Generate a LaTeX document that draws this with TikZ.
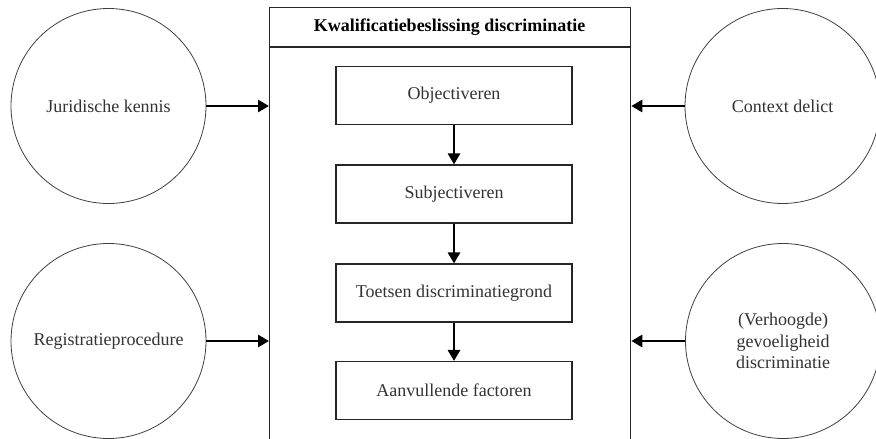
\documentclass[tikz,border=0pt]{standalone}
\usepackage{fontspec}
\setmainfont{Liberation Serif}
\usetikzlibrary{arrows.meta}
\begin{document}
\begin{tikzpicture}[x=1pt,y=-1pt,
  every node/.style={font=\fontsize{18}{21.7}\selectfont, text=black!80},
  circ/.style={draw=black!75, line width=0.8pt, circle, minimum size=195pt, inner sep=0pt, align=center},
  stepbox/.style={draw=black!85, line width=1.1pt, rectangle, minimum width=236pt, minimum height=58pt, inner sep=0pt},
  arr/.style={line width=2.8pt, -{Triangle[length=11pt,width=12pt]}},
  frame/.style={draw=black!85, line width=1.3pt}]
\useasboundingbox (0,0) rectangle (876,439);
\clip (0,0) rectangle (876,439);
\fill[white] (0,0) rectangle (876,439);
% main box
\node[frame, rectangle, inner sep=0pt, minimum width=361pt, minimum height=450pt, anchor=north west] (main) at (269,7) {};
\coordinate (hl) at (269,47);
\coordinate (hr) at (630,47);
\draw[frame] (hl) -- (hr);
\node[font=\fontsize{18}{21.7}\selectfont\bfseries, text=black] (head) at (449.5,27) {Kwalificatiebeslissing discriminatie};
% inner boxes
\node[stepbox] (b1) at (454,95.5) {Objectiveren};
\node[stepbox] (b2) at (454,194) {Subjectiveren};
\node[stepbox] (b3) at (454,293) {Toetsen discriminatiegrond};
\node[stepbox] (b4) at (454,390.5) {Aanvullende factoren};
\draw[arr] (b1.south) -- (b2.north);
\draw[arr] (b2.south) -- (b3.north);
\draw[arr] (b3.south) -- (b4.north);
% circles
\node[circ] (c1) at (108.5,106) {Juridische kennis};
\node[circ] (c2) at (108.5,341) {Registratieprocedure};
\node[circ] (c3) at (782.5,106) {Context delict};
\node[circ] (c4) at (783,341) {(Verhoogde)\\gevoeligheid\\discriminatie};
\draw[arr] (c1.east) -- (c1.east -| main.west);
\draw[arr] (c2.east) -- (c2.east -| main.west);
\draw[arr] (c3.west) -- (c3.west -| main.east);
\draw[arr] (c4.west) -- (c4.west -| main.east);
\end{tikzpicture}
\end{document}
